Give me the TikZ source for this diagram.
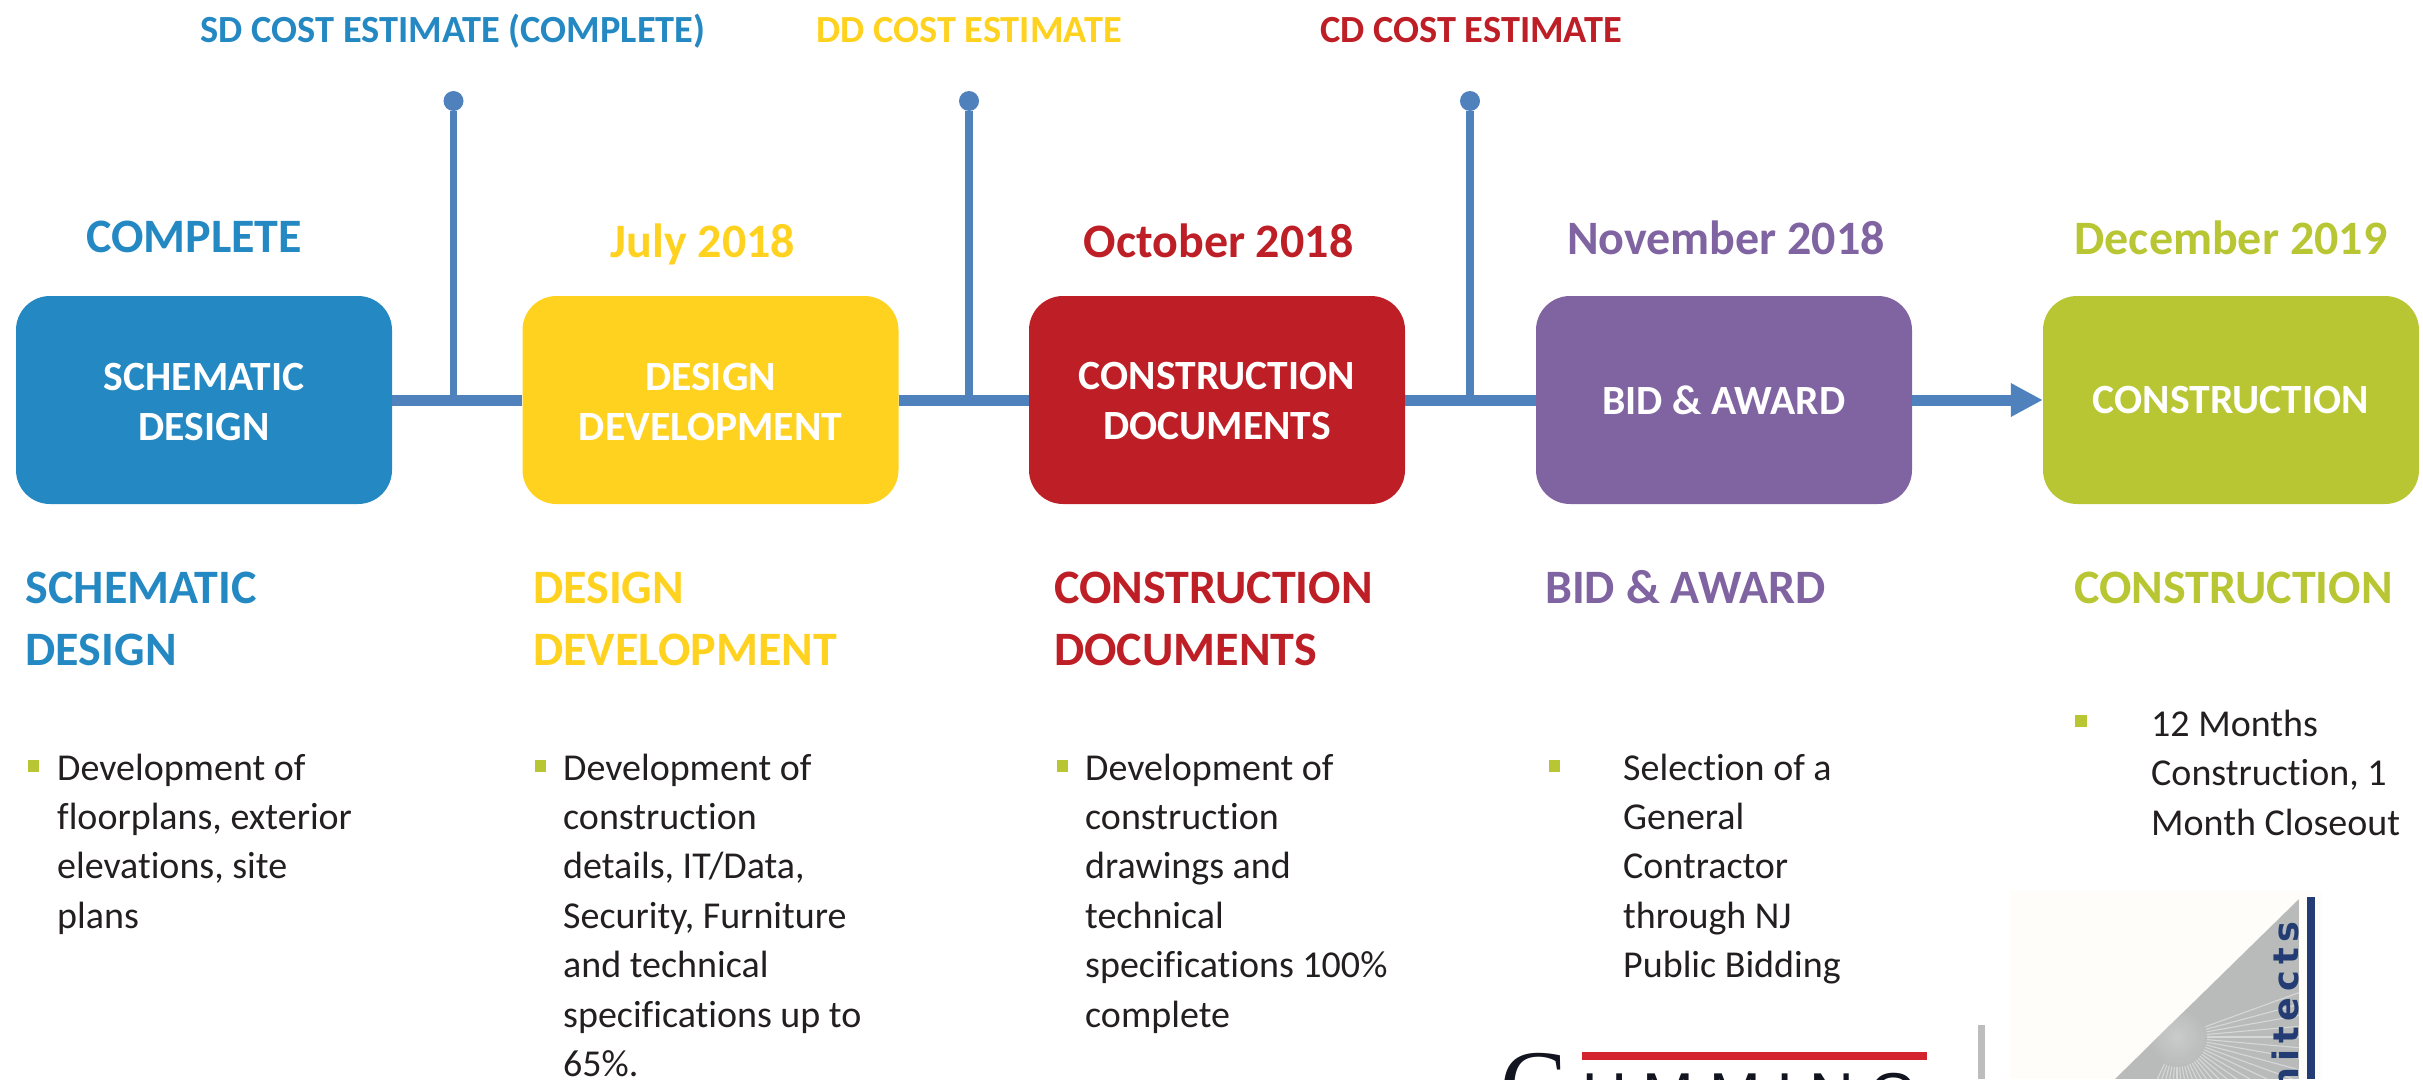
\documentclass[tikz,border=0pt]{standalone}
\usepackage{fontspec}
\usetikzlibrary{arrows.meta}
\setmainfont[Ligatures=CommonOff]{Carlito}
\newfontfamily\logosans[LetterSpace=25]{Liberation Sans}
\newfontfamily\logoserif{Liberation Serif}
\newfontfamily\archfont[LetterSpace=17]{DejaVu Sans}
\newcommand\lowered[1]{\raisebox{-1.5pt}[\height][\depth]{#1}}
\definecolor{cblue}{HTML}{2488C2}
\definecolor{cyellow}{HTML}{FFD220}
\definecolor{cred}{HTML}{BE1E25}
\definecolor{cpurple}{HTML}{8064A2}
\definecolor{cgreen}{HTML}{B8C633}
\definecolor{cline}{HTML}{4F81BD}
\definecolor{ctext}{HTML}{231F20}
\definecolor{lred}{HTML}{D2232E}
\definecolor{lgrey}{HTML}{BDBDBD}
\definecolor{lcream}{HTML}{FFFDFA}
\definecolor{ltri}{HTML}{B9BBBA}
\definecolor{lray}{HTML}{D6D8D7}
\definecolor{lglow}{HTML}{CCCECD}
\definecolor{lnavy}{HTML}{233C74}
\definecolor{lblack}{HTML}{12141F}
\tikzset{
  phase/.style={rounded corners=34pt,minimum width=376pt,minimum height=208pt,inner sep=0pt,text=white,align=center,
     font=\fontsize{41.6}{50}\selectfont\bfseries},
  toplabel/.style={anchor=base,inner sep=0pt,font=\fontsize{38.4}{40}\selectfont\bfseries},
  datelabel/.style={anchor=base,inner sep=0pt,font=\fontsize{48}{50}\selectfont\bfseries},
  heading/.style={anchor=base west,inner sep=0pt,align=left,font=\fontsize{48}{61.5}\selectfont\bfseries},
  body/.style={anchor=base west,inner sep=0pt,align=left,text=ctext,font=\fontsize{38}{49.4}\selectfont},
  bullet/.style={fill=cgreen,minimum size=11.5pt,inner sep=0pt,anchor=center},
  link/.style={draw=cline,line width=11pt},
  stem/.style={draw=cline,line width=7.5pt},
  dot/.style={circle,fill=cline,minimum size=20pt,inner sep=0pt}
}
\begin{document}
\begin{tikzpicture}[x=1pt,y=-1pt]
\useasboundingbox (0,0) rectangle (2423,1079);
\node[phase,fill=cblue] (b1) at (204,400) {\lowered{SCHEMATIC}\\\lowered{DESIGN}};
\node[phase,fill=cyellow] (b2) at (710.5,400) {\lowered{DESIGN}\\\lowered{DEVELOPMENT}};
\node[phase,fill=cred] (b3) at (1217,400) {\lowered{CONSTRUCTION}\\\lowered{DOCUMENTS}};
\node[phase,fill=cpurple] (b4) at (1724,400) {BID \& AWARD};
\node[phase,fill=cgreen] (b5) at (2231,400) {CONSTRUCTION};
\path[link] (b1) -- (b2);
\path[link] (b2) -- (b3);
\path[link] (b3) -- (b4);
\draw[cline,line width=11pt,-{Triangle[length=32pt,width=31.5pt]}] (b4) -- (b5);
\node[dot] (d1) at (453.5,101) {};
\node[dot] (d2) at (969,101) {};
\node[dot] (d3) at (1470,101) {};
\coordinate (j1) at (453.5,400);
\coordinate (j2) at (969,400);
\coordinate (j3) at (1470,400);
\path[stem] (d1) -- (j1);
\path[stem] (d2) -- (j2);
\path[stem] (d3) -- (j3);
% top labels
\node[toplabel,text=cblue] (t1) at (453,42) {SD COST ESTIMATE (COMPLETE)};
\node[toplabel,text=cyellow] (t2) at (969,42) {DD COST ESTIMATE};
\node[toplabel,text=cred] (t3) at (1471,42) {CD COST ESTIMATE};
% dates
\node[datelabel,text=cblue] (m1) at (194,252) {COMPLETE};
\node[datelabel,text=cyellow] (m2) at (703,257) {July 2018};
\node[datelabel,text=cred] (m3) at (1218.5,257) {October 2018};
\node[datelabel,text=cpurple] (m4) at (1726,254) {November 2018};
\node[datelabel,text=cgreen] (m5) at (2231,254) {December 2019};
% headings (base anchor = last line)
\node[heading,text=cblue] (h1) at (25.5,665) {SCHEMATIC\\DESIGN};
\node[heading,text=cyellow] (h2) at (533,665) {DESIGN\\DEVELOPMENT};
\node[heading,text=cred] (h3) at (1054,665) {CONSTRUCTION\\DOCUMENTS};
\node[heading,text=cpurple] (h4) at (1545,603.5) {BID \& AWARD};
\node[heading,text=cgreen] (h5) at (2074,603.5) {CONSTRUCTION};
% bullets
\node[bullet] (p1) at (33.5,766) {};
\node[bullet] (p2) at (540.5,766) {};
\node[bullet] (p3) at (1062.5,766) {};
\node[bullet] (p4) at (1554.5,766) {};
\node[bullet] (p5) at (2081,721) {};
% body
\node[body] (c1) at (57,928.2) {Development of\\floorplans, exterior\\elevations, site\\plans};
\node[body] (c2) at (563,1076.4) {Development of\\construction\\details, IT/Data,\\Security, Furniture\\and technical\\specifications up to\\65\%.};
\node[body] (c3) at (1085,1027) {Development of\\construction\\drawings and\\technical\\specifications 100\%\\complete};
\node[body] (c4) at (1623,977.6) {Selection of a\\General\\Contractor\\through NJ\\Public Bidding};
\node[body] (c5) at (2151,835) {12 Months\\Construction, 1\\Month Closeout};
% logos, cut by the lower edge of the picture
\begin{scope}
\clip (1400,880) rectangle (2423,1079);
\fill[lred] (1582,1052) rectangle (1927,1060);
\fill[lgrey] (1978,1025) rectangle (1985,1079);
\node[anchor=base west,inner sep=0pt,text=lblack,font=\logoserif\fontsize{100}{100}\selectfont] (lc) at (1500,1119) {C};
\node[anchor=base west,inner sep=0pt,text=lblack,font=\logosans\fontsize{62}{62}\selectfont] (lu) at (1582,1116) {UMMING};
\fill[lcream] (2010,891) rectangle (2322,1079);
\begin{scope}
\clip (2299,899) -- (2115,1079) -- (2299,1079) -- cycle;
\fill[ltri] (2010,891) rectangle (2299,1079);
\foreach \a in {-20,-15,...,115}{
  \draw[lray,line width=1.1pt] (2177,1037) ++(\a:24) -- ++(\a:200);
}
\shade[inner color=lglow,outer color=ltri,opacity=0.9] (2177,1037) circle[radius=30pt];
\end{scope}
\fill[lnavy] (2307,897) rectangle (2315,1079);
\node[anchor=base east,rotate=90,inner sep=0pt,text=lnavy,font=\archfont\bfseries\fontsize{35}{35}\selectfont] (la) at (2298,921) {architects};
\end{scope}
\end{tikzpicture}
\end{document}
